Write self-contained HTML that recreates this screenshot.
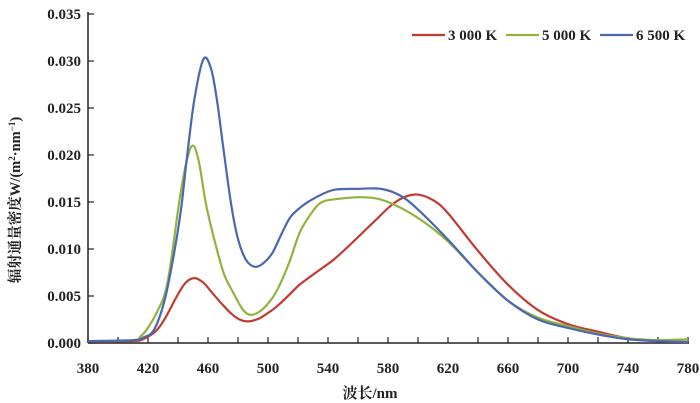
<!DOCTYPE html>
<html><head><meta charset="utf-8"><style>
body{margin:0;background:#fff;}
svg{display:block;font-family:"Liberation Serif","Noto Serif CJK SC",serif;}
</style></head><body>
<svg id="chart" width="700" height="403">
<g id="axes"></g><g id="series"></g><g id="legend"></g>
</svg>
<script>
const xTicks=[380,420,460,500,540,580,620,660,700,740,780];
const yTicks=[0,0.005,0.010,0.015,0.020,0.025,0.030,0.035];
const seriesNames=["3 000 K","5 000 K","6 500 K"];
const seriesColors=["#c23b33","#8fb43c","#4a67b0"];
const wl3000=[380,410,418,426,432,439,445,451,457,463,469,475,481,487,494,500,506,514,521,532,544,555,570,585,598,610,620,640,660,680,700,720,740,760,780];
const val3000=[0.0002,0.0002,0.0005,0.0014,0.0028,0.0049,0.0064,0.0069,0.0064,0.0053,0.0042,0.0032,0.0025,0.0023,0.0026,0.0032,0.0039,0.0051,0.0062,0.0075,0.0089,0.0105,0.0128,0.015,0.0158,0.0152,0.0138,0.0098,0.0062,0.0035,0.002,0.0012,0.0005,0.0002,0.0001];
const wl5000=[380,410,415,419,426,433,441,446,450,454,459,466,471,477,483,488,494,500,506,514,521,528,535,545,565,580,600,620,640,660,680,700,720,740,760,780];
const val5000=[0.0002,0.0003,0.0007,0.0014,0.0033,0.0064,0.0152,0.0195,0.021,0.0192,0.0145,0.0099,0.0072,0.0053,0.0036,0.003,0.0033,0.0042,0.0056,0.0085,0.0117,0.0136,0.0149,0.0153,0.0155,0.015,0.0133,0.0108,0.0075,0.0045,0.0027,0.0018,0.001,0.0005,0.0003,0.0004];
const wl6500=[380,410,417,424,431,437,442,446,451,457,462,466,470,475,479,483,487,492,497,503,509,515,523,532,544,560,575,588,600,620,640,660,680,700,720,740,760,780];
const val6500=[0.0002,0.0003,0.0006,0.0014,0.0045,0.0092,0.0142,0.0198,0.026,0.0302,0.0292,0.0258,0.021,0.0152,0.0117,0.0096,0.0085,0.0081,0.0085,0.0096,0.0116,0.0134,0.0146,0.0155,0.0163,0.0164,0.0164,0.0157,0.0142,0.011,0.0075,0.0045,0.0025,0.0016,0.0009,0.0004,0.0002,0.0001];
const NS="http://www.w3.org/2000/svg";
const X=v=>88+(v-380)*1.5;
const Y=v=>343-v/0.005*47;
function mk(t,a,p){const e=document.createElementNS(NS,t);for(const k in a)e.setAttribute(k,a[k]);p.appendChild(e);return e;}
const axes=document.getElementById('axes');
const yAxis=mk('line',{x1:88,y1:12,x2:88,y2:343,stroke:'#222','stroke-width':1.5},axes);


const xAxis=mk('line',{x1:88,y1:343,x2:689,y2:343,stroke:'#222','stroke-width':1.5},axes);


xTicks.forEach(v=>{
  const t=mk('line',{x1:X(v),y1:343,x2:X(v),y2:337,stroke:'#222','stroke-width':1.2},axes);
  
  
  if(v<780){const m=mk('line',{x1:X(v+20),y1:343,x2:X(v+20),y2:337,stroke:'#222','stroke-width':1.2},axes);
  
  }
  const l=mk('text',{x:X(v),y:373,'text-anchor':'middle','font-size':15,'font-weight':'bold',fill:'#222'},axes);
  l.textContent=v;
  
  
});
yTicks.forEach(v=>{
  const t=mk('line',{x1:88,y1:Y(v),x2:94,y2:Y(v),stroke:'#222','stroke-width':1.2},axes);
  
  
  const l=mk('text',{x:81,y:Y(v)+5,'text-anchor':'end','font-size':15,'font-weight':'bold',fill:'#222'},axes);
  l.textContent=v.toFixed(3);
  
  
});
const xt=mk('text',{x:370,y:398,'text-anchor':'middle','font-size':15,'font-weight':'bold',fill:'#222'},axes);
xt.textContent='波长/nm';


const yt=mk('text',{x:0,y:0,'text-anchor':'middle','font-size':14.5,'font-weight':'bold',fill:'#222',transform:'translate(20,200) rotate(-90)'},axes);
yt.innerHTML='辐射通量密度W/(m<tspan font-size="9" dy="-5">2</tspan><tspan dy="5">·nm</tspan><tspan font-size="9" dy="-5">−1</tspan><tspan dy="5">)</tspan>';


function path(xs,ys){
  const p=xs.map((x,i)=>[X(x),Y(ys[i])]);
  let d='M'+p[0][0]+','+p[0][1];
  for(let i=0;i<p.length-1;i++){
    const p0=p[i-1]||p[i],p1=p[i],p2=p[i+1],p3=p[i+2]||p2;
    const c1=[p1[0]+(p2[0]-p0[0])/6,p1[1]+(p2[1]-p0[1])/6];
    const c2=[p2[0]-(p3[0]-p1[0])/6,p2[1]-(p3[1]-p1[1])/6];
    d+=`C${c1[0]},${c1[1]} ${c2[0]},${c2[1]} ${p2[0]},${p2[1]}`;
  }
  return d;
}
const sg=document.getElementById('series');
const wls=[wl3000,wl5000,wl6500],vals=[val3000,val5000,val6500];
const ids=['series-3000k','series-5000k','series-6500k'];
[0,1,2].forEach(i=>{
  const e=mk('path',{d:path(wls[i],vals[i]),fill:'none',stroke:seriesColors[i],'stroke-width':2.2,'stroke-linejoin':'round'},sg);
  
  
});
const lg=document.getElementById('legend');
const lx=[412,506,600];
[0,1,2].forEach(i=>{
  const l=mk('line',{x1:lx[i],y1:35,x2:lx[i]+33,y2:35,stroke:seriesColors[i],'stroke-width':2.2},lg);
  
  
  const t=mk('text',{x:lx[i]+36,y:40,'font-size':15,'font-weight':'bold',fill:'#222'},lg);
  t.textContent=seriesNames[i];
  
  
});
</script>
</body></html>
